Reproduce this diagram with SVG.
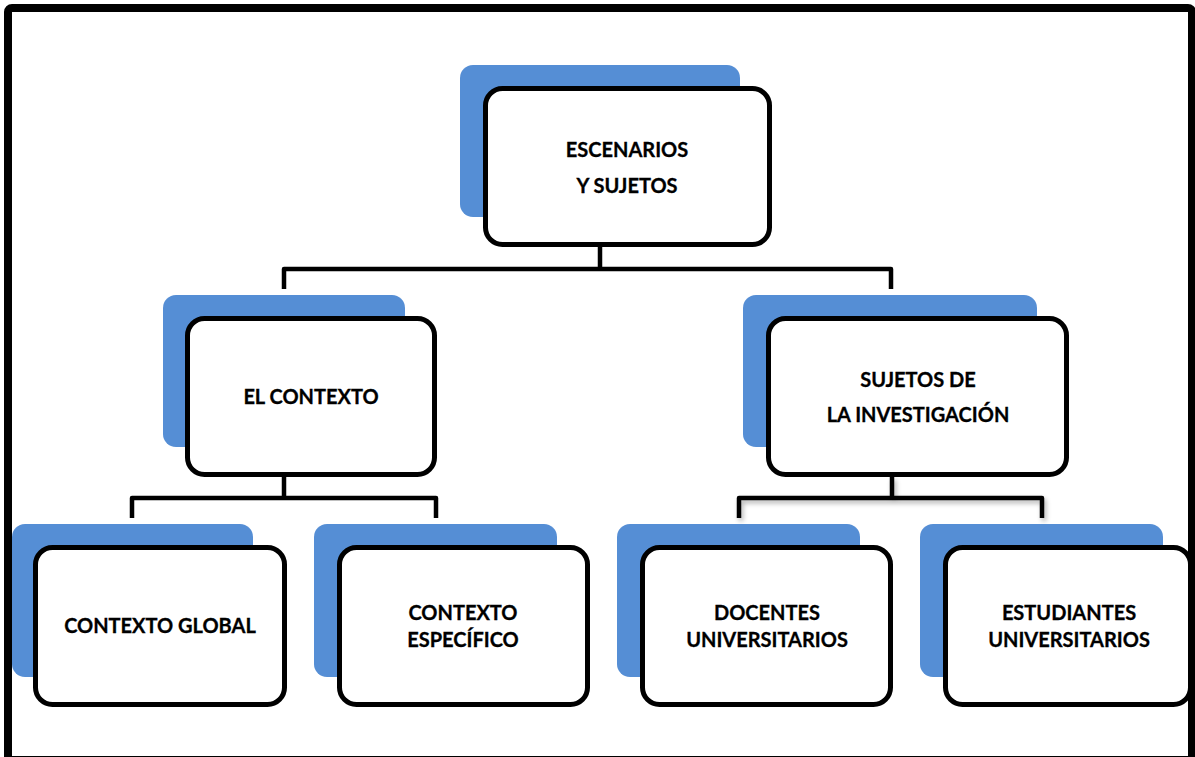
<svg xmlns="http://www.w3.org/2000/svg" width="1195" height="757" viewBox="0 0 1195 757">
  <defs>
    <filter id="sh" x="-10%" y="-50%" width="120%" height="200%">
      <feGaussianBlur in="SourceAlpha" stdDeviation="2.5"/>
      <feOffset dx="2" dy="3" result="b"/>
      <feComponentTransfer><feFuncA type="linear" slope="0.3"/></feComponentTransfer>
      <feMerge><feMergeNode/><feMergeNode in="SourceGraphic"/></feMerge>
    </filter>
  </defs>
  <style>
    .bg { fill: #558ED5; }
    .box { fill: #ffffff; stroke: #000000; stroke-width: 5; }
    .t { font-family: Lato, "Open Sans", "Liberation Sans", sans-serif; font-weight: bold; font-size: 20px; fill: #000000; text-anchor: middle; stroke: #000000; stroke-width: 0.3; }
    .c { fill: none; stroke: #000000; stroke-width: 4.5; stroke-linejoin: round; }
  </style>
  <rect x="0" y="0" width="1195" height="757" fill="#ffffff"/>
  <rect id="frame" x="8" y="8" width="1184" height="752" rx="4" fill="none" stroke="#000000" stroke-width="8"/>

  <g id="connectors">
    <polyline class="c" points="600,247 600,269"/>
    <polyline class="c" points="284,289 284,269 891,269 891,289"/>
    <polyline class="c" points="284,477 284,498"/>
    <polyline class="c" points="132,518 132,498 436,498 436,518"/>
    <g filter="url(#sh)">
      <polyline class="c" points="892,477 892,498"/>
      <polyline class="c" points="739,518 739,498 1042,498 1042,518"/>
    </g>
  </g>

  <g id="node-root">
    <rect class="bg" x="460" y="65" width="280" height="152" rx="13"/>
    <rect class="box" x="485.5" y="88.5" width="284" height="156" rx="17"/>
    <text class="t" x="627" y="157">ESCENARIOS</text>
    <text class="t" x="627" y="193">Y SUJETOS</text>
  </g>

  <g id="node-contexto">
    <rect class="bg" x="163" y="295" width="242" height="152" rx="13"/>
    <rect class="box" x="187.5" y="318.5" width="247" height="156" rx="17"/>
    <text class="t" x="311" y="404">EL CONTEXTO</text>
  </g>

  <g id="node-sujetos">
    <rect class="bg" x="743" y="295" width="294" height="152" rx="13"/>
    <rect class="box" x="768.5" y="318.5" width="298" height="156" rx="17"/>
    <text class="t" x="918" y="387">SUJETOS DE</text>
    <text class="t" x="918" y="422">LA INVESTIGACIÓN</text>
  </g>

  <g id="node-global">
    <rect class="bg" x="12" y="524" width="241" height="153" rx="13"/>
    <rect class="box" x="35.5" y="547.5" width="249" height="157" rx="17"/>
    <text class="t" x="160" y="633">CONTEXTO GLOBAL</text>
  </g>

  <g id="node-especifico">
    <rect class="bg" x="314" y="524" width="243" height="153" rx="13"/>
    <rect class="box" x="339.5" y="547.5" width="248" height="157" rx="17"/>
    <text class="t" x="463" y="620">CONTEXTO</text>
    <text class="t" x="463" y="647">ESPECÍFICO</text>
  </g>

  <g id="node-docentes">
    <rect class="bg" x="617" y="524" width="243" height="153" rx="13"/>
    <rect class="box" x="642.5" y="547.5" width="248" height="157" rx="17"/>
    <text class="t" x="767" y="620">DOCENTES</text>
    <text class="t" x="767" y="647">UNIVERSITARIOS</text>
  </g>

  <g id="node-estudiantes">
    <rect class="bg" x="920" y="524" width="243" height="153" rx="13"/>
    <rect class="box" x="945.5" y="547.5" width="245" height="157" rx="17"/>
    <text class="t" x="1069" y="620">ESTUDIANTES</text>
    <text class="t" x="1069" y="647">UNIVERSITARIOS</text>
  </g>
</svg>
